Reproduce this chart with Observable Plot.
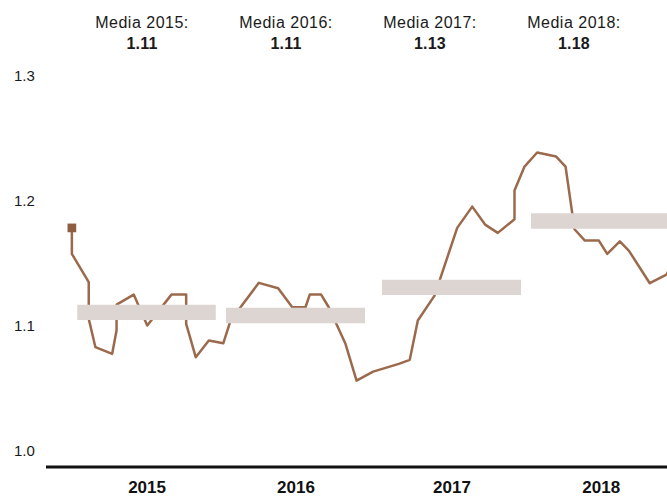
<!DOCTYPE html>
<html><head><meta charset="utf-8">
<script src="https://cdn.jsdelivr.net/npm/d3@7"></script>
<script src="https://cdn.jsdelivr.net/npm/@observablehq/plot@0.6"></script>
<style>
body{margin:0;background:#fff;font-family:"Liberation Sans",Arial,sans-serif;overflow:hidden;}
#header{display:flex;height:56px;padding-left:70px;box-sizing:border-box;}
.h{width:144px;text-align:center;color:#1a1a1a;font-size:16px;line-height:21px;padding-top:12px;letter-spacing:0.5px;}
.h b{display:block;letter-spacing:0.2px;}
#chart svg{display:block;}
</style></head><body>
<div id="header"></div><div id="chart"></div>
<script>
// Yearly means
const years = [2015, 2016, 2017, 2018];
const means = [1.111, 1.1085, 1.131, 1.184];
const barStart = [2015.048, 2016.026, 2017.053, 2018.033];
const barEnd = [2015.959, 2016.941, 2017.967, 2018.95];

// Series (decimal year, value)
const dates = [2015.009,2015.009,2015.120,2015.120,2015.164,2015.274,2015.303,2015.303,2015.416,2015.505,
  2015.664,2015.761,2015.761,2015.824,2015.910,2016.005,2016.053,2016.239,2016.366,2016.459,
  2016.546,2016.574,2016.649,2016.699,2016.809,2016.882,2016.991,2017.160,2017.232,2017.285,
  2017.395,2017.544,2017.643,2017.730,2017.811,2017.921,2017.921,2017.987,2018.070,2018.195,
  2018.257,2018.316,2018.384,2018.476,2018.531,2018.614,2018.673,2018.811,2018.921,2018.947];
const values = [1.1785,1.1577,1.1351,1.1058,1.0832,1.0779,1.0965,1.1172,1.1252,1.1005,
  1.1252,1.1252,1.1018,1.0752,1.0885,1.0863,1.1045,1.1346,1.1303,1.1151,
  1.1151,1.1252,1.1252,1.1151,1.0859,1.0565,1.0637,1.0699,1.0731,1.1045,
  1.1244,1.1785,1.1955,1.1809,1.1745,1.1854,1.2083,1.2275,1.2387,1.2355,
  1.2275,1.1774,1.1684,1.1684,1.1577,1.1678,1.1604,1.1343,1.1412,1.147];

const yTicks = [1.0, 1.1, 1.2, 1.3];
const yFloor = 0.9875;

const series = dates.map((t, i) => ({t, v: values[i]}));
const bars = years.map((y, i) => ({year: y, mean: means[i], x1: barStart[i], x2: barEnd[i]}));

// Header
const header = document.getElementById("header");
bars.forEach(b => {
  const d = document.createElement("div");
  d.className = "h";
  d.innerHTML = `Media ${b.year}:<b>${b.mean.toFixed(2)}</b>`;
  header.appendChild(d);
});

const font = "Liberation Sans, Arial, sans-serif";
const chart = Plot.plot({
  width: 667,
  height: 443,
  marginLeft: 46,
  marginRight: 0,
  marginTop: 19.3,
  marginBottom: 32.5,
  style: {fontFamily: font, background: "#fff", overflow: "hidden"},
  x: {domain: [2015, 2019], range: [70, 678], axis: null},
  y: {domain: [yFloor, 1.3], axis: null},
  marks: [
    Plot.line(series, {x: "t", y: "v", stroke: "#9b6a4c", strokeWidth: 2.5}),
    Plot.ruleY(bars, {y: "mean", x1: "x1", x2: "x2", stroke: "#dcd5d2", strokeWidth: 15.4}),
    Plot.dot(series.slice(0, 1), {x: "t", y: "v", symbol: "square", r: 4.9, fill: "#8e5e42", stroke: "none"}),
    Plot.ruleY([yFloor], {stroke: "#111", strokeWidth: 3}),
    Plot.text(yTicks, {y: d => d, text: d => d.toFixed(1), frameAnchor: "left", textAnchor: "start", dx: -32.5, fontSize: 15, fill: "#1a1a1a", style: "letter-spacing:0.5px"}),
    Plot.text(bars, {x: d => (d.x1 + d.x2) / 2, text: d => String(d.year), frameAnchor: "bottom", dy: 26, fontSize: 17, fontWeight: "bold", fill: "#111"})
  ]
});
document.getElementById("chart").appendChild(chart);
</script>
</body></html>
